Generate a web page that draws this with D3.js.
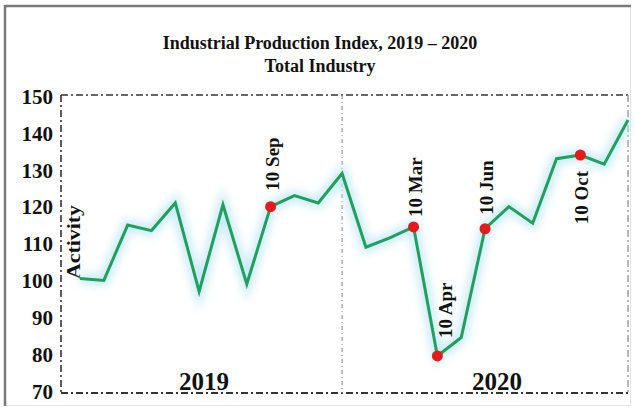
<!DOCTYPE html>
<html><head><meta charset="utf-8">
<script src="https://cdn.jsdelivr.net/npm/d3@7"></script>
<style>body{margin:0;background:#fff;} svg{display:block;}</style>
</head><body>
<script>
const months = ["Jan 2019","Feb 2019","Mar 2019","Apr 2019","May 2019","Jun 2019","Jul 2019","Aug 2019","Sep 2019","Oct 2019","Nov 2019","Dec 2019",
                "Jan 2020","Feb 2020","Mar 2020","Apr 2020","May 2020","Jun 2020","Jul 2020","Aug 2020","Sep 2020","Oct 2020","Nov 2020","Dec 2020"];
const values = [100.5,100,115,113.5,121,97,120.5,99,120,123,121,129,
                109,111.5,114.5,79.5,84.5,114,120,115.5,133,134,131.5,143.5];
const markedIdx = [8,14,15,17,21];
const markLabels = ["10 Sep","10 Mar","10 Apr","10 Jun","10 Oct"];
const markBelow = [false,false,false,false,true];
const yTicks = [70,80,90,100,110,120,130,140,150];
const yearLabels = ["2019","2020"];
const titleLines = ["Industrial Production Index, 2019 \u2013 2020","Total Industry"];
const yLabel = "Activity";

const W=635,H=409;
const svg=d3.select("body").append("svg").attr("width",W).attr("height",H);
const font="'Liberation Serif','Times New Roman',serif";

// outer frame
svg.append("rect").attr("x",5.5).attr("y",6.5).attr("width",625).attr("height",399)
  .attr("fill","none").attr("stroke","#e2e2e2").attr("stroke-width",1);
svg.append("line").attr("x1",5).attr("x2",631).attr("y1",6).attr("y2",6).attr("stroke","#7a7a7a").attr("stroke-width",2.5);
svg.append("line").attr("x1",5).attr("x2",5).attr("y1",5).attr("y2",406).attr("stroke","#7a7a7a").attr("stroke-width",2.5);

const L=61,R=628,T=95,B=393;
const x=d3.scaleLinear().domain([0,values.length-1]).range([80,628]);
const y=d3.scaleLinear().domain([70,150]).range([391,96]);

// title
titleLines.forEach((t,i)=>{
  svg.append("text").attr("x",320).attr("y",49+i*23).attr("text-anchor","middle")
    .attr("font-family",font).attr("font-weight","bold").attr("font-size",18).attr("fill","#111").text(t);
});

// dotted frame
const dash="7,3,2,3";
const fr=svg.append("g").attr("fill","none").attr("stroke","#333").attr("stroke-width",1.6).attr("stroke-dasharray",dash);
fr.append("line").attr("x1",L).attr("x2",R).attr("y1",T).attr("y2",T);
fr.append("line").attr("x1",L).attr("x2",R).attr("y1",B).attr("y2",B).attr("stroke-width",2);
fr.append("line").attr("x1",L).attr("x2",L).attr("y1",T).attr("y2",B);
fr.append("line").attr("x1",R).attr("x2",R).attr("y1",T).attr("y2",B).attr("stroke","#888").attr("stroke-width",1.2);
const divX=x(11);
fr.append("line").attr("x1",divX).attr("x2",divX).attr("y1",T).attr("y2",B).attr("stroke","#999").attr("stroke-width",1.2).attr("stroke-dasharray","4,3,1,3");

// y axis
const yAxis=d3.axisLeft(y).tickValues(yTicks).tickSize(0).tickPadding(0);
const ga=svg.append("g").attr("transform",`translate(53,0)`).call(yAxis);
ga.select(".domain").remove();
ga.selectAll("text").attr("font-family",font).attr("font-weight","bold").attr("font-size",21).attr("fill","#111").attr("dy","0.35em");

// y label
svg.append("text").attr("transform",`translate(80,${242}) rotate(-90)`).attr("text-anchor","middle")
  .attr("font-family",font).attr("font-weight","bold").attr("font-size",18).attr("fill","#111")
  .attr("textLength",74).attr("lengthAdjust","spacingAndGlyphs").text(yLabel);

// year labels
const yearX=[204,497];
yearLabels.forEach((t,i)=>{
  svg.append("text").attr("x",yearX[i]).attr("y",390).attr("text-anchor","middle")
    .attr("font-family",font).attr("font-weight","bold").attr("font-size",25).attr("fill","#111").text(t);
});

// glow
const defs=svg.append("defs");
const f=defs.append("filter").attr("id","glow").attr("x","-20%").attr("y","-20%").attr("width","140%").attr("height","140%");
f.append("feGaussianBlur").attr("stdDeviation",5);
const line=d3.line().x((d,i)=>x(i)).y(d=>y(d));
svg.append("path").datum(values).attr("d",line).attr("fill","none").attr("stroke","#bfe6f5").attr("stroke-width",10).attr("filter","url(#glow)").attr("opacity",0.9);
svg.append("path").datum(values).attr("d",line).attr("fill","none").attr("stroke","#20a05e").attr("stroke-width",3).attr("stroke-linejoin","miter");

// markers + labels (label offsets: [dx baseline, gap])
const labelOffsets=[[8,16],[8,10],[15,18],[8,14],[8,16]];
markedIdx.forEach((idx,k)=>{
  const px=x(idx), py=y(values[idx]);
  svg.append("circle").attr("cx",px).attr("cy",py).attr("r",5.5).attr("fill","#e31b1b");
  const [dx,gap]=labelOffsets[k];
  svg.append("text").attr("font-family",font).attr("font-weight","bold").attr("font-size",19).attr("fill","#111")
    .attr("transform",`translate(${px+dx},${markBelow[k]? py+gap : py-gap}) rotate(-90)`)
    .attr("text-anchor",markBelow[k]?"end":"start").text(markLabels[k]);
});
</script>
</body></html>
